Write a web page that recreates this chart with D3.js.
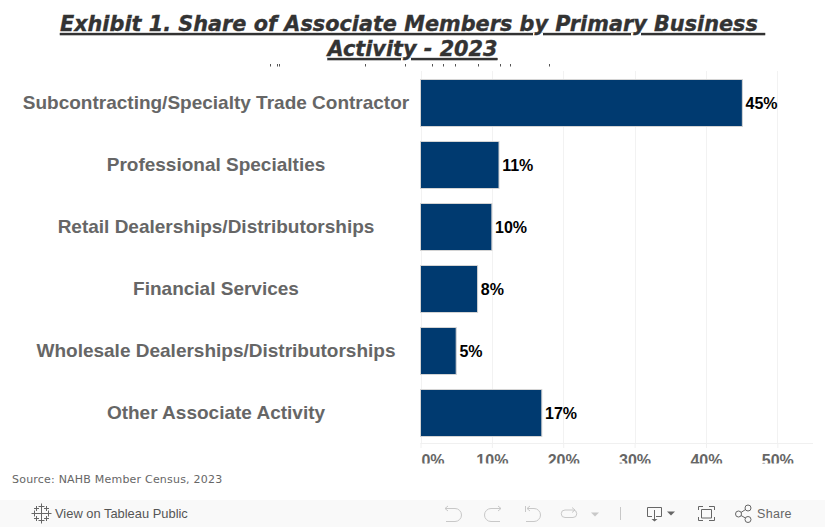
<!DOCTYPE html>
<html><head><meta charset="utf-8">
<script src="https://cdnjs.cloudflare.com/ajax/libs/d3/7.8.5/d3.min.js"></script>
<style>html,body{margin:0;padding:0;background:#fff}svg{display:block}</style>
</head><body><svg id="c" width="825" height="527"></svg>
<script>
const categories=["Subcontracting/Specialty Trade Contractor","Professional Specialties","Retail Dealerships/Distributorships","Financial Services","Wholesale Dealerships/Distributorships","Other Associate Activity"];
const shares=[45.1,11,10,8,5,17];
const shareLabels=["45%","11%","10%","8%","5%","17%"];
const tickValues=[0,10,20,30,40,50];
const titleLines=["Exhibit 1. Share of Associate Members by Primary Business ","Activity - 2023"];
const sourceText="Source: NAHB Member Census, 2023";
const clippedSpecks=[270,277,279,365,405,432,443,455,478,500,510,549];
const logoPlus=[[41,513,5],[34,513,2.5],[48,513,2.5],[41,506,2.5],[41,520,2.5],[36,508,2],[46,508,2],[36,518,2],[46,518,2]];

const svg=d3.select("#c");
const x=d3.scaleLinear().domain([0,55]).range([420.5,813]);
const y=d3.scaleBand().domain(categories).range([73.3,442.7]).paddingInner(15/62).paddingOuter(0.1);
const sans="'Liberation Sans',Arial,sans-serif";

svg.append("defs").append("clipPath").attr("id","tickClip").append("rect").attr("x",400).attr("y",445).attr("width",425).attr("height",18.5);

svg.append("g").selectAll("text").data(titleLines).join("text")
 .attr("x",412.5).attr("y",(d,i)=>31+i*25).attr("text-anchor","middle")
 .attr("font-family","'DejaVu Sans',Verdana,sans-serif").attr("font-weight",700).attr("font-style","italic")
 .attr("font-size",20.8).attr("fill","#333").attr("stroke","#333").attr("stroke-width",0.35)
 .attr("text-decoration","underline").style("white-space","pre").text(d=>d);

svg.append("g").selectAll("rect").data(clippedSpecks).join("rect")
 .attr("x",d=>d).attr("y",64).attr("width",1).attr("height",2.5).attr("fill","#555");

svg.append("g").selectAll("line").data(tickValues).join("line")
 .attr("x1",d=>Math.round(x(d))+.5).attr("x2",d=>Math.round(x(d))+.5).attr("y1",71).attr("y2",443).attr("stroke","#f2f2f2");
svg.append("line").attr("x1",420.5).attr("x2",813).attr("y1",443.5).attr("y2",443.5).attr("stroke","#f0f0f0");

svg.append("g").selectAll("rect").data(categories).join("rect")
 .attr("x",x(0)).attr("y",d=>y(d)).attr("width",(d,i)=>x(shares[i])-x(0)).attr("height",y.bandwidth())
 .attr("fill","#003a70").attr("stroke","#d4d4d4").attr("stroke-width",1);

svg.append("g").selectAll("text").data(categories).join("text")
 .attr("x",216).attr("y",d=>y(d)+y.bandwidth()/2+6.3).attr("text-anchor","middle")
 .attr("font-family",sans).attr("font-weight",700).attr("font-size",19).attr("fill","#666").text(d=>d);

svg.append("g").selectAll("text").data(categories).join("text")
 .attr("x",(d,i)=>x(shares[i])+3.2).attr("y",d=>y(d)+y.bandwidth()/2+5.5)
 .attr("font-family",sans).attr("font-weight",700).attr("font-size",16).attr("fill","#000").text((d,i)=>shareLabels[i]);

const ax=d3.axisBottom(x).tickValues(tickValues).tickFormat(d=>d+"%").tickSize(5);
const g=svg.append("g").attr("transform","translate(0,443)").call(ax);
g.select(".domain").remove();
g.selectAll(".tick line").attr("stroke","#f0f0f0");
g.selectAll(".tick text").attr("font-family",sans).attr("font-weight",700).attr("font-size",16).attr("fill","#666")
 .attr("dy",0).attr("y",22.5).attr("dx",d=>d===0?12:0);
g.attr("clip-path","url(#tickClip)");
g.attr("clip-path",null);
g.selectAll(".tick").each(function(){});
// tick labels are cut off by the view's edge in the reference
svg.append("rect").attr("x",400).attr("y",463.5).attr("width",425).attr("height",12).attr("fill","#fff");

svg.append("text").attr("x",12).attr("y",483).attr("font-family","'DejaVu Sans',sans-serif").attr("font-size",11).attr("letter-spacing",0.21).attr("fill","#666").text(sourceText);

svg.append("rect").attr("x",0).attr("y",500).attr("width",825).attr("height",27).attr("fill","#f9f9f9");
svg.append("text").attr("x",55).attr("y",518).attr("font-family",sans).attr("font-size",12.9).attr("fill","#555").text("View on Tableau Public");
svg.append("text").attr("x",757).attr("y",518).attr("font-family",sans).attr("font-size",12.5).attr("letter-spacing",.3).attr("fill","#666").text("Share");

// toolbar icons
const logo=svg.append("g").attr("stroke","#666").attr("fill","none");
logo.selectAll("path").data(logoPlus).join("path").attr("d",d=>`M${d[0]-d[2]} ${d[1]+.5}H${d[0]+d[2]+1}M${d[0]+.5} ${d[1]-d[2]}V${d[1]+d[2]+1}`);
const icon=(d,c,fill)=>svg.append("path").attr("d",d).attr("fill",fill||"none").attr("stroke",fill?"none":c).attr("stroke-width",1);
const pale="#c8c8c8",dark="#666";
icon("M445 508.5H455a6.5 6.5 0 0 1 0 13H446M448 506l-3 2.5 3 2.5",pale);
icon("M501 508.5H491a6.5 6.5 0 0 0 0 13H500M498 506l3 2.5-3 2.5",pale);
icon("M525.5 506V512M527 508.5H534a6.5 6.5 0 0 1 0 13H526M530 506l-3 2.5 3 2.5",pale);
icon("M573 510H565a3.5 3.5 0 0 0 0 7.5H573a3.5 3.5 0 0 0 0-7.5M572 507.5l3 2.5-3 2.5",pale);
icon("M591 512.5h8l-4 4z",null,pale);
icon("M620.5 507V520",pale);
icon("M652 516.5H647.5V507.5H661.5V516.5H656M654.5 510V519",dark);
icon("M651.5 519h6l-3 2.5z",null,dark);
icon("M667 511.5h8l-4 4z",null,dark);
icon("M698.5 510V506.5H703M709 506.5H714.5V510M714.5 517V520.5H709M703 520.5H698.5V517M701.5 509.5H711.5V518H701.5Z",dark);
svg.append("g").attr("fill","none").attr("stroke",dark).selectAll("circle").data([[738.5,514,3],[748,508,3],[748,519.5,3]]).join("circle")
 .attr("cx",d=>d[0]).attr("cy",d=>d[1]).attr("r",d=>d[2]);
icon("M741 512.5L745.5 509.5M741 515.5L745.5 518",dark);
</script></body></html>
